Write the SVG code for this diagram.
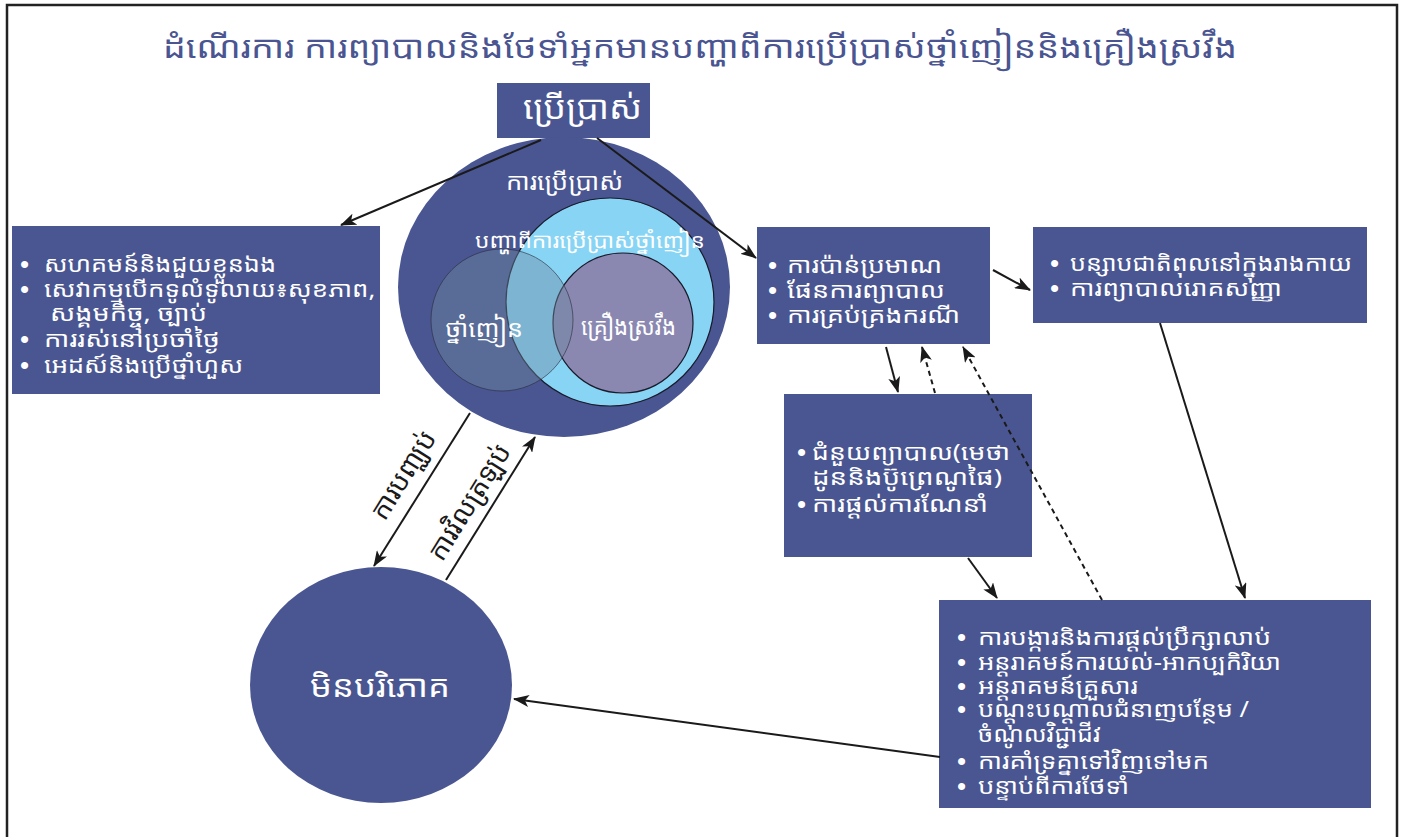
<svg xmlns="http://www.w3.org/2000/svg" width="1403" height="837" viewBox="0 0 1403 837">
<defs>
<marker id="ah" viewBox="0 0 16 12" refX="15" refY="6" markerWidth="16" markerHeight="12" markerUnits="userSpaceOnUse" orient="auto">
<path d="M0,0 L16,6 L0,12 L4,6 Z" fill="#1a1a1a"/>
</marker>
<style>
.k{font-family:"Noto Sans Khmer","Khmer OS","Khmer OS System","Noto Sans","DejaVu Sans",sans-serif;}
.w{fill:#ffffff;}
.box{fill:#4a5691;}
.li{font-size:22px;}
.b{font-family:"Liberation Sans",Arial,sans-serif;font-size:26px;fill:#ffffff;}
.ln{stroke:#1a1a1a;stroke-width:2;fill:none;marker-end:url(#ah);}
.dash{stroke-dasharray:5,4;}
</style>
</defs>
<rect width="1403" height="837" fill="#ffffff"/>
<path d="M7,837 V5 H1397 V837" fill="none" stroke="#222222" stroke-width="2.5"/>
<text class="k" x="163" y="58" font-size="31" fill="#4a5591" textLength="1074" lengthAdjust="spacingAndGlyphs">ដំណើរការ ការព្យាបាលនិងថែទាំអ្នកមានបញ្ហាពីការប្រើប្រាស់ថ្នាំញៀននិងគ្រឿងស្រវឹង</text>

<g id="n-use">
<rect class="box" x="497" y="83" width="153" height="55"/>
<text class="k w" x="523" y="119" font-size="33" textLength="119" lengthAdjust="spacingAndGlyphs">ប្រើប្រាស់</text>
</g>

<g id="n-venn">
<ellipse cx="564" cy="287" rx="166" ry="150" fill="#4a5691"/>
<circle cx="610" cy="302" r="104" fill="#87d4f4" stroke="#1a1a2a" stroke-width="1.2"/>
<circle cx="623" cy="323" r="70" fill="#8a88b1" stroke="#1a1a2a" stroke-width="1.2"/>
<circle cx="502" cy="320" r="71" fill="rgb(110,135,160)" fill-opacity="0.42" stroke="#2a2a3a" stroke-opacity="0.6" stroke-width="1"/>
<text class="k w" x="506" y="190" font-size="24" textLength="117" lengthAdjust="spacingAndGlyphs">ការប្រើប្រាស់</text>
<text class="k w" x="475" y="248" font-size="21" textLength="230" lengthAdjust="spacingAndGlyphs">បញ្ហាពីការប្រើប្រាស់ថ្នាំញៀន</text>
<text class="k w" x="445" y="337" font-size="24" textLength="78" lengthAdjust="spacingAndGlyphs">ថ្នាំញៀន</text>
<text class="k w" x="581" y="335" font-size="24" textLength="95" lengthAdjust="spacingAndGlyphs">គ្រឿងស្រវឹង</text>
</g>

<g id="n-community">
<rect class="box" x="12" y="226" width="368" height="168"/>
<text class="b" x="20" y="273">•</text>
<text class="b" x="20" y="298">•</text>
<text class="b" x="20" y="348">•</text>
<text class="b" x="20" y="374">•</text>
<g class="k w li">
<text x="44" y="272" textLength="232" lengthAdjust="spacingAndGlyphs">សហគមន៍និងជួយខ្លួនឯង</text>
<text x="44" y="297" textLength="331" lengthAdjust="spacingAndGlyphs">សេវាកម្មបើកទូលំទូលាយ៖សុខភាព,</text>
<text x="50" y="321" textLength="157" lengthAdjust="spacingAndGlyphs">សង្គមកិច្ច, ច្បាប់</text>
<text x="44" y="347" textLength="176" lengthAdjust="spacingAndGlyphs">ការរស់នៅប្រចាំថ្ងៃ</text>
<text x="44" y="373" textLength="199" lengthAdjust="spacingAndGlyphs">អេដស៍និងប្រើថ្នាំហួស</text>
</g>
</g>

<g id="n-assess">
<rect class="box" x="757" y="227" width="233" height="117"/>
<text class="b" x="768" y="274">•</text>
<text class="b" x="768" y="299">•</text>
<text class="b" x="768" y="324">•</text>
<g class="k w li">
<text x="787" y="273" textLength="155" lengthAdjust="spacingAndGlyphs">ការប៉ាន់ប្រមាណ</text>
<text x="787" y="298" textLength="158" lengthAdjust="spacingAndGlyphs">ផែនការព្យាបាល</text>
<text x="787" y="323" textLength="173" lengthAdjust="spacingAndGlyphs">ការគ្រប់គ្រងករណី</text>
</g>
</g>

<g id="n-detox">
<rect class="box" x="1033" y="227" width="334" height="96"/>
<text class="b" x="1050" y="272">•</text>
<text class="b" x="1050" y="297">•</text>
<g class="k w li">
<text x="1070" y="271" textLength="282" lengthAdjust="spacingAndGlyphs">បន្សាបជាតិពុលនៅក្នុងរាងកាយ</text>
<text x="1070" y="296" textLength="212" lengthAdjust="spacingAndGlyphs">ការព្យាបាលរោគសញ្ញា</text>
</g>
</g>

<g id="n-medication">
<rect class="box" x="784" y="394" width="248" height="163"/>
<text class="b" x="797" y="461">•</text>
<text class="b" x="797" y="513">•</text>
<g class="k w li">
<text x="812" y="460" textLength="198" lengthAdjust="spacingAndGlyphs">ជំនួយព្យាបាល(មេថា</text>
<text x="812" y="485" textLength="190" lengthAdjust="spacingAndGlyphs">ដូននិងប៊ូព្រេណូផៃ)</text>
<text x="812" y="512" textLength="176" lengthAdjust="spacingAndGlyphs">ការផ្តល់ការណែនាំ</text>
</g>
</g>

<g id="n-relapse">
<rect class="box" x="939" y="600" width="432" height="208"/>
<text class="b" x="957" y="646">•</text>
<text class="b" x="957" y="671">•</text>
<text class="b" x="957" y="695">•</text>
<text class="b" x="957" y="718">•</text>
<text class="b" x="957" y="770">•</text>
<text class="b" x="957" y="795">•</text>
<g class="k w li">
<text x="978" y="645" textLength="293" lengthAdjust="spacingAndGlyphs">ការបង្ការនិងការផ្តល់ប្រឹក្សាលាប់</text>
<text x="978" y="670" textLength="303" lengthAdjust="spacingAndGlyphs">អន្តរាគមន៍ការយល់-អាកប្បកិរិយា</text>
<text x="978" y="694" textLength="160" lengthAdjust="spacingAndGlyphs">អន្តរាគមន៍គ្រួសារ</text>
<text x="978" y="717" textLength="271" lengthAdjust="spacingAndGlyphs">បណ្តុះបណ្តាលជំនាញបន្ថែម /</text>
<text x="978" y="742" textLength="123" lengthAdjust="spacingAndGlyphs">ចំណូលវិជ្ជាជីវ</text>
<text x="978" y="769" textLength="231" lengthAdjust="spacingAndGlyphs">ការគាំទ្រគ្នាទៅវិញទៅមក</text>
<text x="978" y="794" textLength="151" lengthAdjust="spacingAndGlyphs">បន្ទាប់ពីការថែទាំ</text>
</g>
</g>

<g id="n-abstain">
<ellipse cx="381" cy="685" rx="131" ry="118" fill="#4a5691"/>
<text class="k w" x="310" y="697" font-size="31" textLength="140" lengthAdjust="spacingAndGlyphs">មិនបរិភោគ</text>
</g>

<g id="connectors">
<line class="ln" x1="541" y1="140" x2="341" y2="225"/>
<line class="ln" x1="597" y1="138" x2="756" y2="258"/>
<line class="ln" x1="993" y1="270" x2="1030" y2="290"/>
<line class="ln" x1="886" y1="347" x2="898" y2="392"/>
<line class="ln dash" x1="935" y1="393" x2="922" y2="347"/>
<line class="ln dash" x1="1102" y1="600" x2="963" y2="347"/>
<line class="ln" x1="968" y1="558" x2="997" y2="598"/>
<line class="ln" x1="1160" y1="323" x2="1245" y2="598"/>
<line class="ln" x1="940" y1="757" x2="514" y2="699"/>
<line class="ln" x1="470" y1="413" x2="374" y2="566"/>
<line class="ln" x1="446" y1="580" x2="535" y2="437"/>
<text class="k" x="0" y="0" font-size="27" fill="#1a1a1a" text-anchor="middle" transform="translate(411,480) rotate(-58)">ការបញ្ឈប់</text>
<text class="k" x="0" y="0" font-size="27" fill="#1a1a1a" text-anchor="middle" transform="translate(477,507) rotate(-58)">ការវិលត្រឡប់</text>
</g>
</svg>
